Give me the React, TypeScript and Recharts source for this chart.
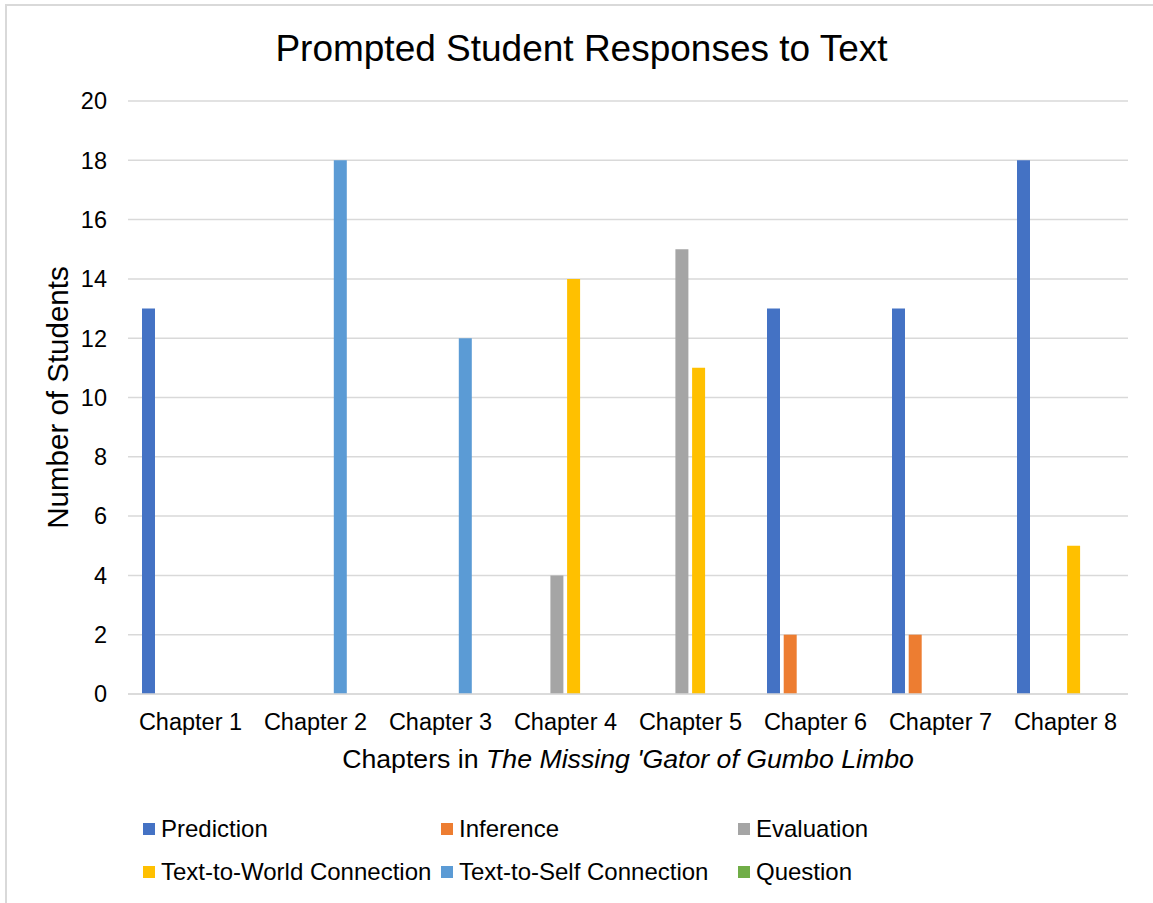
import React from 'react';
import { BarChart, Bar, XAxis, YAxis, CartesianGrid, Legend } from 'recharts';

const chapters = ['Chapter 1', 'Chapter 2', 'Chapter 3', 'Chapter 4', 'Chapter 5', 'Chapter 6', 'Chapter 7', 'Chapter 8'];
const prediction = [13, 0, 0, 0, 0, 13, 13, 18];
const inference = [0, 0, 0, 0, 0, 2, 2, 0];
const evaluation = [0, 0, 0, 4, 15, 0, 0, 0];
const textToWorld = [0, 0, 0, 14, 11, 0, 0, 5];
const textToSelf = [0, 18, 12, 0, 0, 0, 0, 0];
const question = [0, 0, 0, 0, 0, 0, 0, 0];
const yTicks = [0, 2, 4, 6, 8, 10, 12, 14, 16, 18, 20];

const seriesDefs = [
  { key: 'prediction', name: 'Prediction', color: '#4472C4', values: prediction },
  { key: 'inference', name: 'Inference', color: '#ED7D31', values: inference },
  { key: 'evaluation', name: 'Evaluation', color: '#A5A5A5', values: evaluation },
  { key: 'textToWorld', name: 'Text-to-World Connection', color: '#FFC000', values: textToWorld },
  { key: 'textToSelf', name: 'Text-to-Self Connection', color: '#5B9BD5', values: textToSelf },
  { key: 'question', name: 'Question', color: '#70AD47', values: question },
];

const data = chapters.map((c, i) => {
  const row: any = { chapter: c };
  seriesDefs.forEach((s) => { row[s.key] = s.values[i]; });
  return row;
});

const FONT = '"Liberation Sans", Arial, sans-serif';

const LegendContent = () => (
  <div style={{ display: 'grid', gridTemplateColumns: '298px 297px 300px', rowGap: 14, paddingLeft: 143, fontFamily: FONT, fontSize: 24, color: '#000' }}>
    {seriesDefs.map((s) => (
      <div key={s.key} style={{ display: 'flex', alignItems: 'center', height: 29, whiteSpace: 'nowrap' }}>
        <span style={{ display: 'inline-block', width: 12, height: 12, background: s.color, marginRight: 6 }} />
        <span>{s.name}</span>
      </div>
    ))}
  </div>
);

const YLabel = (props: any) => {
  const vb = props.viewBox || { x: 0, y: 101, width: 128, height: 593 };
  const cx = 57;
  const cy = vb.y + vb.height / 2;
  return (
    <text x={cx} y={cy} transform={`rotate(-90 ${cx} ${cy})`} textAnchor="middle" dominantBaseline="central" fontFamily={FONT} fontSize={29.5} fill="#000">
      Number of Students
    </text>
  );
};

const XLabel = (props: any) => {
  const vb = props.viewBox || { x: 128, y: 694, width: 1000, height: 60 };
  const cx = vb.x + vb.width / 2;
  return (
    <text x={cx} y={768} textAnchor="middle" fontFamily={FONT} fontSize={26.7} fill="#000">
      <tspan>Chapters in </tspan>
      <tspan fontStyle="italic">The Missing 'Gator of Gumbo Limbo</tspan>
    </text>
  );
};

export default function App() {
  return (
    <div style={{ position: 'absolute', left: 0, top: 0, width: 1153, height: 903, background: '#fff', overflow: 'hidden' }}>
      <div style={{ position: 'absolute', left: 5, top: 4, width: 1300, height: 1000, borderLeft: '2px solid #d9d9d9', borderTop: '2px solid #d9d9d9' }} />
      <div style={{ position: 'absolute', left: 5, top: 30, width: 1153, textAlign: 'center', fontFamily: FONT, fontSize: 37, lineHeight: '37px', color: '#000' }}>
        Prompted Student Responses to Text
      </div>
      <div style={{ position: 'absolute', left: 0, top: 0 }}>
        <BarChart width={1153} height={903} data={data} margin={{ top: 101, right: 25, bottom: 149, left: 0 }} barSize={13} barGap={3.7}>
          <CartesianGrid vertical={false} stroke="#d9d9d9" strokeWidth={1.5} />
          <XAxis dataKey="chapter" height={60} tickLine={false} axisLine={{ stroke: '#d9d9d9', strokeWidth: 1.5 }} tick={{ fill: '#000', fontSize: 23.5, fontFamily: FONT }} tickMargin={13} interval={0} label={<XLabel />} />
          <YAxis width={128} domain={[0, 20]} ticks={yTicks} tickLine={false} axisLine={false} tick={{ fill: '#000', fontSize: 23.5, fontFamily: FONT }} tickMargin={15} interval={0} label={<YLabel />} />
          <Legend layout="horizontal" verticalAlign="middle" align="center" wrapperStyle={{ left: 0, top: 814, width: 1153 }} content={<LegendContent />} />
          {seriesDefs.map((s) => (
            <Bar key={s.key} dataKey={s.key} name={s.name} fill={s.color} isAnimationActive={false} />
          ))}
        </BarChart>
      </div>
    </div>
  );
}
